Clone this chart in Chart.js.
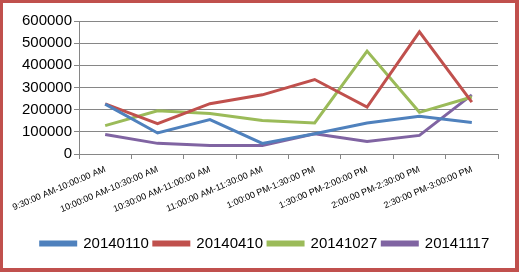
<!DOCTYPE html>
<html>
<head>
<meta charset="utf-8">
<script src="https://cdn.jsdelivr.net/npm/chart.js@4"></script>
<style>
  body { margin: 0; background: #fff; }
  .wrap { position: relative; width: 519px; height: 272px; }
  .frame { position: absolute; left: 0; top: 0; width: 519px; height: 272px; box-sizing: border-box;
           border: 3px solid #C0504D; border-right-width: 4px; border-bottom-width: 4px; pointer-events: none; }
</style>
</head>
<body>
<div class="wrap">
  <canvas id="grafico" width="519" height="272"></canvas>
  <div class="frame"></div>
</div>
<script>
// franjas horarias
const franjas = [
  '9:30:00 AM-10:00:00 AM',
  '10:00:00 AM-10:30:00 AM',
  '10:30:00 AM-11:00:00 AM',
  '11:00:00 AM-11:30:00 AM',
  '1:00:00 PM-1:30:00 PM',
  '1:30:00 PM-2:00:00 PM',
  '2:00:00 PM-2:30:00 PM',
  '2:30:00 PM-3:00:00 PM'
];

// valores de cada fecha
const serie20140110 = [225000, 95000, 155000, 48000, 91000, 140000, 170000, 142000];
const serie20140410 = [226000, 137000, 227000, 267000, 336000, 212000, 551000, 234000];
const serie20141027 = [128000, 195000, 183000, 151000, 140000, 464000, 188000, 257000];
const serie20141117 = [88000, 48000, 38000, 38000, 91000, 57000, 84000, 267000];

const nombres = ['20140110', '20140410', '20141027', '20141117'];
const colores = ['#4F81BD', '#C0504D', '#9BBB59', '#8064A2'];
const series = [serie20140110, serie20140410, serie20141027, serie20141117];

const gris = '#868686';

// la leyenda va un poco a la derecha, como en el original
const moverLeyenda = {
  id: 'moverLeyenda',
  afterLayout(chart) {
    chart.legend.left += 16;
    chart.legend.right += 16;
  }
};

const cv = document.querySelector('#grafico').getContext('2d');
const grafico = new Chart(cv, {
  type: 'line',
  data: {
    labels: franjas,
    datasets: series.map((s, i) => ({
      label: nombres[i],
      data: s,
      borderColor: colores[i],
      backgroundColor: colores[i],
      borderWidth: 3,
      pointRadius: 0,
      tension: 0
    }))
  },
  options: {
    responsive: false,
    animation: false,
    layout: { padding: { top: 21, right: 21, left: 0, bottom: 11 } },
    plugins: {
      tooltip: { enabled: false },
      legend: {
        position: 'bottom',
        labels: {
          color: '#000',
          font: { family: 'Liberation Sans', size: 15 },
          boxWidth: 35,
          boxHeight: 3,
          padding: 5
        }
      }
    },
    scales: {
      x: {
        offset: true,
        afterFit: (scale) => { scale.height += 11; },
        grid: { offset: true, drawOnChartArea: false, drawTicks: true, tickLength: 5, color: gris },
        border: { color: gris },
        ticks: {
          color: '#000',
          font: { family: 'Liberation Sans', size: 9 },
          minRotation: 23,
          maxRotation: 23,
          autoSkip: false,
          padding: 5
        }
      },
      y: {
        min: 0,
        max: 600000,
        afterFit: (scale) => { scale.width = 79; },
        grid: { color: gris, tickLength: 5 },
        border: { color: gris },
        ticks: {
          stepSize: 100000,
          color: '#000',
          font: { family: 'Liberation Sans', size: 15 },
          padding: 2,
          callback: (v) => String(v)
        }
      }
    }
  },
  plugins: [moverLeyenda]
});
</script>
</body>
</html>
